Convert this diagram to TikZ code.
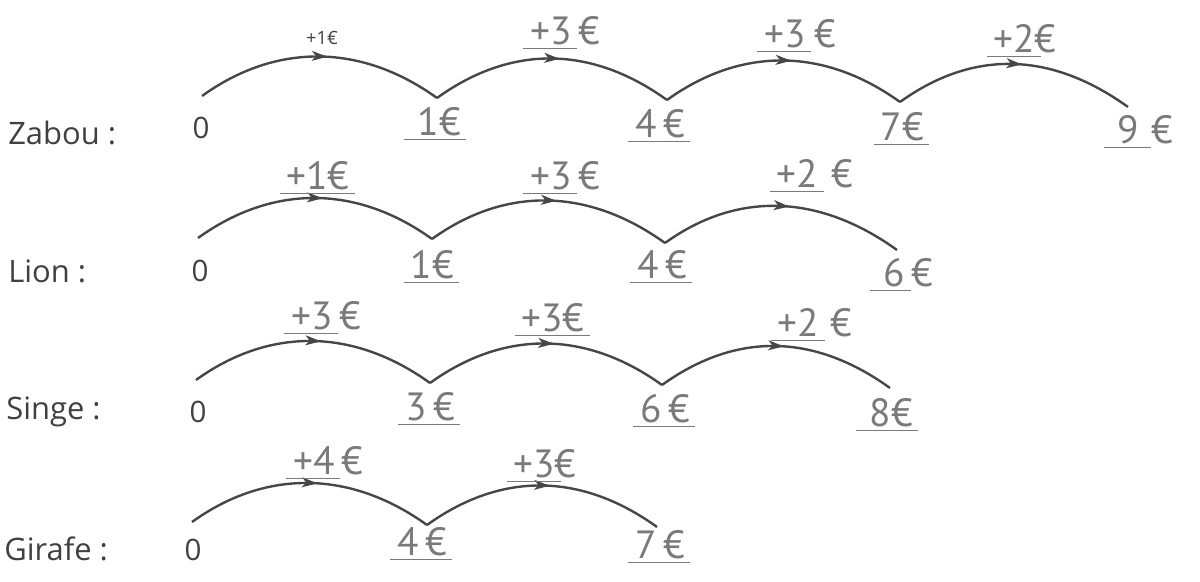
\documentclass[tikz,border=0pt]{standalone}
\usepackage{fontspec}
\setmainfont{Open Sans}
\newfontfamily\handfont{PT Sans}
\usepackage{xcolor}
\usetikzlibrary{arrows.meta,decorations.markings}
\definecolor{printgray}{HTML}{404040}
\definecolor{handgray}{HTML}{7A7A7A}
\definecolor{arcgray}{HTML}{464646}
\newsavebox\hwbox
\newcommand{\hwul}[1]{\sbox\hwbox{#1}\rlap{\hspace{-5pt}\rule[-3pt]{\dimexpr\wd\hwbox+9pt\relax}{0.9pt}}\usebox\hwbox}
\tikzset{
  animal/.style={
    anchor=west,
    inner sep=0pt,
    text=printgray,
    font=\fontsize{22}{26}\selectfont,
  },
  zero/.style={
    inner sep=0pt,
    text=printgray,
    font=\fontsize{21}{25}\selectfont,
  },
  printed step/.style={
    inner sep=0pt,
    text=printgray,
    font=\fontsize{13}{15}\selectfont,
  },
  hand/.style={
    inner sep=0pt,
    text=handgray,
    font=\handfont\fontsize{28}{32}\selectfont,
  },
  jump/.style={
    draw=arcgray,
    line width=1.7pt,
    postaction={decorate},
    decoration={markings,
      mark=at position 0.53 with {\arrow[arcgray]{Stealth[length=11pt,width=7pt,inset=3pt]}}},
  },
}

\begin{document}
\begin{tikzpicture}[x=0.025cm,y=-0.025cm]
  \useasboundingbox (0,0) rectangle (1200,582);

  % Zabou
  \node[animal] (zabou) at (8,133) {Zabou :};
  \node[zero] (z-start) at (201,128) {0};
  \coordinate (z0) at (202,96);
  \coordinate (z1) at (437,98);
  \coordinate (z2) at (667,100);
  \coordinate (z3) at (900,102);
  \coordinate (z4) at (1128,107);
  \draw[jump] (z0) .. controls +(75,-54) and +(-75,-54) .. (z1);
  \draw[jump] (z1) .. controls +(75,-54) and +(-75,-54) .. (z2);
  \draw[jump] (z2) .. controls +(75,-54) and +(-75,-54) .. (z3);
  \draw[jump] (z3) .. controls +(75,-54) and +(-75,-54) .. (z4);
  \node[printed step] (z-step1) at (322,38) {+1€};
  \node[hand] (z-step2) at (565,33) {\hwul{+3}\,€};
  \node[hand] (z-step3) at (800,36) {\hwul{+3}\hspace{6pt}€};
  \node[hand] (z-step4) at (1025,41) {\hwul{+2}€};
  \node[hand] (z-val1) at (436,124) {\hwul{\,1€}};
  \node[hand] (z-val2) at (660,126) {\hwul{4\,€}};
  \node[hand] (z-val3) at (902,129) {\hwul{7€}};
  \node[hand] (z-val4) at (1142,132) {\hwul{\,9\,}\,€};

  % Lion
  \node[animal] (lion) at (8,271) {Lion :};
  \node[zero] (l-start) at (200,271) {0};
  \coordinate (l0) at (198,238);
  \coordinate (l1) at (432,239);
  \coordinate (l2) at (665,243);
  \coordinate (l3) at (897,250);
  \draw[jump] (l0) .. controls +(75,-54) and +(-75,-54) .. (l1);
  \draw[jump] (l1) .. controls +(75,-54) and +(-75,-54) .. (l2);
  \draw[jump] (l2) .. controls +(75,-54) and +(-75,-54) .. (l3);
  \node[hand] (l-step1) at (318,178) {\hwul{+1€}};
  \node[hand] (l-step2) at (565,178) {\hwul{+3}\,€};
  \node[hand] (l-step3) at (815,176) {\hwul{+2}\hspace{10pt}€};
  \node[hand] (l-val1) at (432,267) {\hwul{1€}};
  \node[hand] (l-val2) at (662,267) {\hwul{4\,€}};
  \node[hand] (l-val3) at (905,275) {\hwul{\,6}\,€};

  % Singe
  \node[animal] (singe) at (6,412) {Singe :};
  \node[zero] (s-start) at (198,412) {0};
  \coordinate (s0) at (196,380);
  \coordinate (s1) at (430,383);
  \coordinate (s2) at (662,385);
  \coordinate (s3) at (890,388);
  \draw[jump] (s0) .. controls +(75,-54) and +(-75,-54) .. (s1);
  \draw[jump] (s1) .. controls +(75,-54) and +(-75,-54) .. (s2);
  \draw[jump] (s2) .. controls +(75,-54) and +(-75,-54) .. (s3);
  \node[hand] (s-step1) at (326,318) {\hwul{+3}\,€};
  \node[hand] (s-step2) at (553,320) {\hwul{+3€}};
  \node[hand] (s-step3) at (815,325) {\hwul{+2}\hspace{8pt}€};
  \node[hand] (s-val1) at (430,409) {\hwul{3\,€}};
  \node[hand] (s-val2) at (665,411) {\hwul{6\,€}};
  \node[hand] (s-val3) at (888,415) {\hwul{\,8€}};

  % Girafe
  \node[animal] (girafe) at (4,549) {Girafe :};
  \node[zero] (g-start) at (193,550) {0};
  \coordinate (g0) at (192,522);
  \coordinate (g1) at (427,525);
  \coordinate (g2) at (657,527);
  \draw[jump] (g0) .. controls +(75,-54) and +(-75,-54) .. (g1);
  \draw[jump] (g1) .. controls +(75,-54) and +(-75,-54) .. (g2);
  \node[hand] (g-step1) at (328,463) {\hwul{+4}\,€};
  \node[hand] (g-step2) at (545,466) {\hwul{+3}€};
  \node[hand] (g-val1) at (422,544) {\hwul{4\,€}};
  \node[hand] (g-val2) at (660,547) {\hwul{7\,€}};
\end{tikzpicture}
\end{document}
